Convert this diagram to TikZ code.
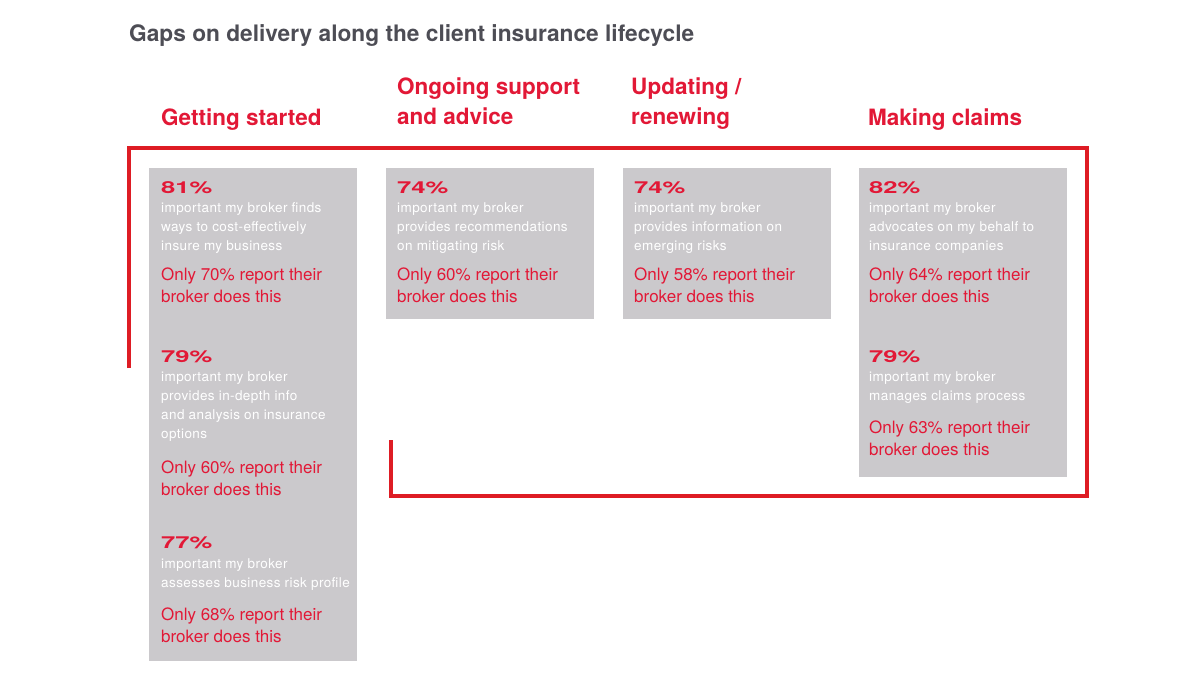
\documentclass[tikz,border=0pt]{standalone}
\usepackage{fontspec}
\setmainfont{TeX Gyre Heros}
\newfontfamily\notefont[LetterSpace=3]{TeX Gyre Heros}
\newfontfamily\pctfont[FakeStretch=1.55]{TeX Gyre Heros}
\definecolor{gapred}{RGB}{226,24,54}
\definecolor{framered}{RGB}{222,28,36}
\definecolor{boxgrey}{RGB}{203,201,204}
\definecolor{titlegrey}{RGB}{77,77,85}

\begin{document}
\begin{tikzpicture}[x=1pt,y=-1pt,
    box/.style={fill=boxgrey, anchor=north west, inner sep=0, minimum width=208pt},
    pct/.style={anchor=base west, inner sep=0, text=gapred, font=\pctfont\bfseries\fontsize{16.5}{16.5}\selectfont},
    note/.style={anchor=base west, inner sep=0, align=left, text=white, font=\notefont\fontsize{13.5}{19}\selectfont},
    gap/.style={anchor=base west, inner sep=0, align=left, text=gapred, font=\fontsize{17}{22.7}\selectfont},
    head/.style={anchor=base west, inner sep=0, align=left, text=gapred, font=\bfseries\fontsize{22.5}{30}\selectfont}]
    \useasboundingbox (0,0) rectangle (1200,686);
    \node[anchor=base west, inner sep=0, text=titlegrey, font=\bfseries\fontsize{22.7}{22.7}\selectfont] (title) at (129,41) {Gaps on delivery along the client insurance lifecycle};
    % stage headings (base = last line)
    \node[head] (hgs) at (161,125) {Getting started};
    \node[head] (hosa) at (397,124) {Ongoing support\\and advice};
    \node[head] (hupd) at (631,124) {Updating /\\renewing};
    \node[head] (hmc) at (868,125) {Making claims};
    % frame
    \draw[framered, line width=3.2pt] (129,368) -- (129,148) -- (1087,148) -- (1087,496) -- (391,496) -- (391,440);
    % boxes
    \node[box, minimum height=493pt] (gs) at (149,168) {};
    \node[box, minimum height=151pt] (osa) at (386,168) {};
    \node[box, minimum height=151pt] (upd) at (623,168) {};
    \node[box, minimum height=309pt] (mc) at (859,168) {};
    % getting started
    \node[pct] (gs1) at (161,193) {81\%};
    \node[note] (gs1n) at (161,250.5) {important my broker finds\\ways to cost-effectively\\insure my business};
    \node[gap] (gs1g) at (161,302.7) {Only 70\% report their\\broker does this};
    \node[pct] (gs2) at (161,362) {79\%};
    \node[note] (gs2n) at (161,438.5) {important my broker\\provides in-depth info\\and analysis on insurance\\options};
    \node[gap] (gs2g) at (161,495.7) {Only 60\% report their\\broker does this};
    \node[pct] (gs3) at (161,548) {77\%};
    \node[note] (gs3n) at (161,587) {important my broker\\assesses business risk profile};
    \node[gap] (gs3g) at (161,642.7) {Only 68\% report their\\broker does this};
    % ongoing support
    \node[pct] (osa1) at (397,193) {74\%};
    \node[note] (osa1n) at (397,250.5) {important my broker\\provides recommendations\\on mitigating risk};
    \node[gap] (osa1g) at (397,302.7) {Only 60\% report their\\broker does this};
    % updating
    \node[pct] (upd1) at (634,193) {74\%};
    \node[note] (upd1n) at (634,250.5) {important my broker\\provides information on\\emerging risks};
    \node[gap] (upd1g) at (634,302.7) {Only 58\% report their\\broker does this};
    % claims
    \node[pct] (mc1) at (869,193) {82\%};
    \node[note] (mc1n) at (869,250.5) {important my broker\\advocates on my behalf to\\insurance companies};
    \node[gap] (mc1g) at (869,302.7) {Only 64\% report their\\broker does this};
    \node[pct] (mc2) at (869,362) {79\%};
    \node[note] (mc2n) at (869,400.5) {important my broker\\manages claims process};
    \node[gap] (mc2g) at (869,455.7) {Only 63\% report their\\broker does this};
\end{tikzpicture}
\end{document}
